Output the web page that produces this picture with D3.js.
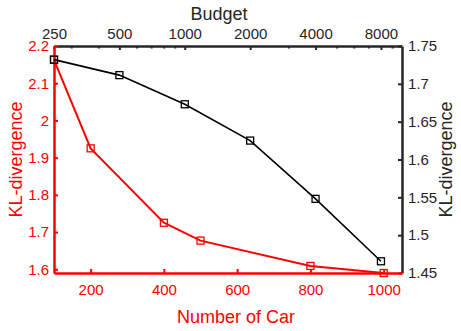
<!DOCTYPE html>
<html>
<head>
<meta charset="utf-8">
<script src="https://cdn.jsdelivr.net/npm/d3@7"></script>
<style>
  html, body { margin: 0; padding: 0; background: #fff; }
  svg { display: block; font-family: "Liberation Sans", Arial, sans-serif; }
</style>
</head>
<body>
<svg id="chart" width="461" height="331"></svg>
<script>
// Red series: KL-divergence against number of cars (bottom / left axes)
const carCounts = [100, 200, 400, 500, 800, 1000];
const carKL = [2.163, 1.925, 1.725, 1.677, 1.609, 1.59];

// Black series: KL-divergence against budget (top log / right axes)
const budgets = [250, 500, 1000, 2000, 4000, 8000];
const budgetKL = [1.732, 1.7115, 1.673, 1.625, 1.548, 1.4655];

// Tick values
const carTicks = [200, 400, 600, 800, 1000];
const leftTicks = [1.6, 1.7, 1.8, 1.9, 2.0, 2.1, 2.2];
const budgetTicks = [250, 500, 1000, 2000, 4000, 8000];
const budgetMinorTicks = [300, 400, 600, 700, 800, 900, 3000, 5000, 6000, 7000, 9000];
const rightTicks = [1.45, 1.5, 1.55, 1.6, 1.65, 1.7, 1.75];

const RED = "#ff0000";
const DARK = "#262626";

const box = { left: 54, right: 402, top: 46, bottom: 273 };
const svg = d3.select("#chart");

const xCar = d3.scaleLinear().domain([100, 1050]).range([box.left, box.right]);
const yLeft = d3.scaleLinear().domain([1.59, 2.2]).range([box.bottom, box.top]);
const xBudget = d3.scaleLog().domain([250, 10000]).range([box.left, box.right]);
const yRight = d3.scaleLinear().domain([1.45, 1.75]).range([box.bottom, box.top]);

function styleAxis(g, color, fontSize) {
  g.select(".domain").attr("stroke", color).attr("stroke-width", 2.5);
  g.selectAll(".tick line").attr("stroke", color).attr("stroke-width", 2);
  g.selectAll(".tick text")
    .attr("fill", color)
    .style("font-size", fontSize + "px")
    .style("font-family", "'Liberation Sans', Arial, sans-serif");
}

// Top minor ticks (log scale)
svg.append("g")
  .attr("transform", `translate(0,${box.top})`)
  .call(d3.axisTop(xBudget).tickValues(budgetMinorTicks).tickSizeInner(-2.5).tickSizeOuter(0).tickFormat(""))
  .call(g => { g.select(".domain").remove(); g.selectAll(".tick line").attr("stroke", DARK).attr("stroke-width", 2); });

// Top axis: budget (log)
svg.append("g")
  .attr("transform", `translate(0,${box.top})`)
  .call(d3.axisTop(xBudget).tickValues(budgetTicks).tickSizeInner(-4).tickSizeOuter(0).tickPadding(7).tickFormat(d3.format("d")))
  .call(g => styleAxis(g, DARK, 15));

// Right axis
svg.append("g")
  .attr("transform", `translate(${box.right},0)`)
  .call(d3.axisRight(yRight).tickValues(rightTicks).tickSizeInner(-4).tickSizeOuter(0).tickPadding(6)
    .tickFormat(d => String(+d.toFixed(2))))
  .call(g => styleAxis(g, DARK, 15));

// Bottom axis: number of cars
svg.append("g")
  .attr("transform", `translate(0,${box.bottom})`)
  .call(d3.axisBottom(xCar).tickValues(carTicks).tickSizeInner(-4).tickSizeOuter(0).tickPadding(11).tickFormat(d3.format("d")))
  .call(g => styleAxis(g, RED, 15));

// Left axis
svg.append("g")
  .attr("transform", `translate(${box.left},0)`)
  .call(d3.axisLeft(yLeft).tickValues(leftTicks).tickSizeInner(-4).tickSizeOuter(0).tickPadding(5)
    .tickFormat(d => String(+d.toFixed(1))))
  .call(g => styleAxis(g, RED, 15));

// Axis titles
svg.append("text").attr("x", 219).attr("y", 20).attr("text-anchor", "middle")
  .attr("fill", DARK).style("font-size", "18px").text("Budget");
svg.append("text").attr("x", 236).attr("y", 323).attr("text-anchor", "middle")
  .attr("fill", RED).style("font-size", "18px").text("Number of Car");
svg.append("text").attr("transform", `translate(22,${(box.top + box.bottom) / 2}) rotate(-90)`)
  .attr("text-anchor", "middle").attr("fill", RED).style("font-size", "18px").text("KL-divergence");
svg.append("text").attr("transform", `translate(452,${(box.top + box.bottom) / 2}) rotate(-90)`)
  .attr("text-anchor", "middle").attr("fill", DARK).style("font-size", "18px").text("KL-divergence");

const M = 7; // marker size

// Red series
const redData = carCounts.map((c, i) => ({ x: xCar(c), y: yLeft(carKL[i]) }));
svg.append("path").datum(redData)
  .attr("fill", "none").attr("stroke", RED).attr("stroke-width", 2)
  .attr("d", d3.line().x(d => d.x).y(d => d.y));
svg.append("g").selectAll("rect").data(redData).join("rect")
  .attr("x", d => d.x - M / 2).attr("y", d => d.y - M / 2)
  .attr("width", M).attr("height", M)
  .attr("fill", "none").attr("stroke", RED).attr("stroke-width", 1.3);

// Black series
const blackData = budgets.map((b, i) => ({ x: xBudget(b), y: yRight(budgetKL[i]) }));
svg.append("path").datum(blackData)
  .attr("fill", "none").attr("stroke", "#000").attr("stroke-width", 1.6)
  .attr("d", d3.line().x(d => d.x).y(d => d.y));
svg.append("g").selectAll("rect").data(blackData).join("rect")
  .attr("x", d => d.x - M / 2).attr("y", d => d.y - M / 2)
  .attr("width", M).attr("height", M)
  .attr("fill", "none").attr("stroke", "#000").attr("stroke-width", 1.3);
</script>
</body>
</html>
